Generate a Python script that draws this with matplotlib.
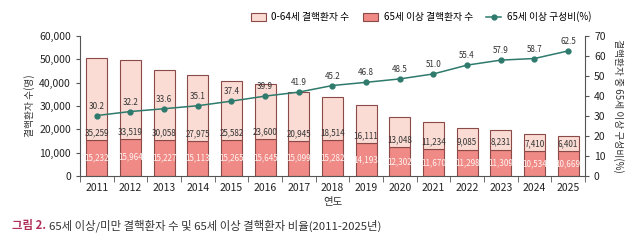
import matplotlib.pyplot as plt
import numpy as np

plt.rcParams['font.family'] = ['Noto Sans CJK KR', 'DejaVu Sans']

# data
years = ['2011', '2012', '2013', '2014', '2015', '2016', '2017', '2018',
         '2019', '2020', '2021', '2022', '2023', '2024', '2025']
over65 = [15232, 15964, 15227, 15113, 15265, 15645, 15099, 15282,
          14193, 12302, 11670, 11298, 11309, 10534, 10669]
under65 = [35259, 33519, 30058, 27975, 25582, 23600, 20945, 18514,
           16111, 13048, 11234, 9085, 8231, 7410, 6401]
ratio = [30.2, 32.2, 33.6, 35.1, 37.4, 39.9, 41.9, 45.2,
         46.8, 48.5, 51.0, 55.4, 57.9, 58.7, 62.5]

fig = plt.figure(figsize=(6.4, 2.41), dpi=100)
ax = fig.add_axes([0.125, 0.27, 0.789, 0.581])
x = np.arange(len(years))

edge = '#8a4a48'
b1 = ax.bar(x, over65, width=0.63, color='#f08a86', edgecolor=edge, linewidth=0.8,
            label='65세 이상 결핵환자 수')
b2 = ax.bar(x, under65, width=0.63, bottom=over65, color='#fadcd4', edgecolor=edge,
            linewidth=0.8, label='0-64세 결핵환자 수')

for i in range(len(x)):
    ax.text(x[i], over65[i] / 2, f'{over65[i]:,}', ha='center', va='center',
            fontsize=5.8, color='#fff4f2')
    ax.annotate(f'{under65[i]:,}', (x[i], over65[i]), xytext=(0, 2),
                textcoords='offset points', ha='center', va='bottom',
                fontsize=5.8, color='#333333')

ax.set_xlim(-0.5, len(x) - 0.5)
ax.set_ylim(0, 60000)
ax.set_yticks(range(0, 60001, 10000))
ax.set_yticklabels([f'{v:,}' for v in range(0, 60001, 10000)])
ax.set_xticks(x)
ax.set_xticklabels(years)
ax.set_xticks(np.arange(-0.5, len(x), 1), minor=True)
ax.tick_params(axis='x', which='major', length=0, labelsize=7.5, colors='#222222', pad=5)
ax.tick_params(axis='x', which='minor', length=4, direction='out', color='#555555')
ax.tick_params(axis='y', labelsize=7.5, colors='#222222', length=3, color='#555555')
for s in ['top', 'right']:
    ax.spines[s].set_visible(False)
for s in ['left', 'bottom']:
    ax.spines[s].set_color('#555555')
ax.set_ylabel('결핵환자 수(명)', fontsize=7, color='#333333', labelpad=3)
ax.set_xlabel('연도', fontsize=7.5, color='#333333', labelpad=3)

ax2 = ax.twinx()
ln, = ax2.plot(x, ratio, color='#2e7a6c', marker='o', markersize=3.5, linewidth=1.1,
               label='65세 이상 구성비(%)')
for i in range(len(x)):
    ax2.annotate(f'{ratio[i]:.1f}', (x[i], ratio[i]), xytext=(0, 3.5),
                 textcoords='offset points', ha='center', va='bottom',
                 fontsize=5.8, color='#333333')
ax2.set_ylim(0, 70)
ax2.set_yticks(range(0, 71, 10))
ax2.tick_params(axis='y', labelsize=7.5, colors='#222222', length=3, color='#555555')
for s in ['top', 'left', 'bottom']:
    ax2.spines[s].set_visible(False)
ax2.spines['right'].set_color('#555555')
ax2.set_ylabel('결핵환자 중 65세 이상 구성비(%)', fontsize=7, color='#333333',
               rotation=270, labelpad=13)

fig.legend([b2, b1, ln], ['0-64세 결핵환자 수', '65세 이상 결핵환자 수', '65세 이상 구성비(%)'],
           loc='center', bbox_to_anchor=(0.658, 0.93), ncol=3, frameon=False,
           fontsize=7, handlelength=1.5, handleheight=0.8, handletextpad=0.6,
           columnspacing=1.4)

fig.text(0.018, 0.065, '그림 2.', fontsize=8.2, color='#b0305a', fontweight='bold',
         ha='left', va='center')
fig.text(0.077, 0.065, '65세 이상/미만 결핵환자 수 및 65세 이상 결핵환자 비율(2011-2025년)',
         fontsize=8.2, color='#333333', ha='left', va='center')

fig.savefig('out.png', dpi=100)
